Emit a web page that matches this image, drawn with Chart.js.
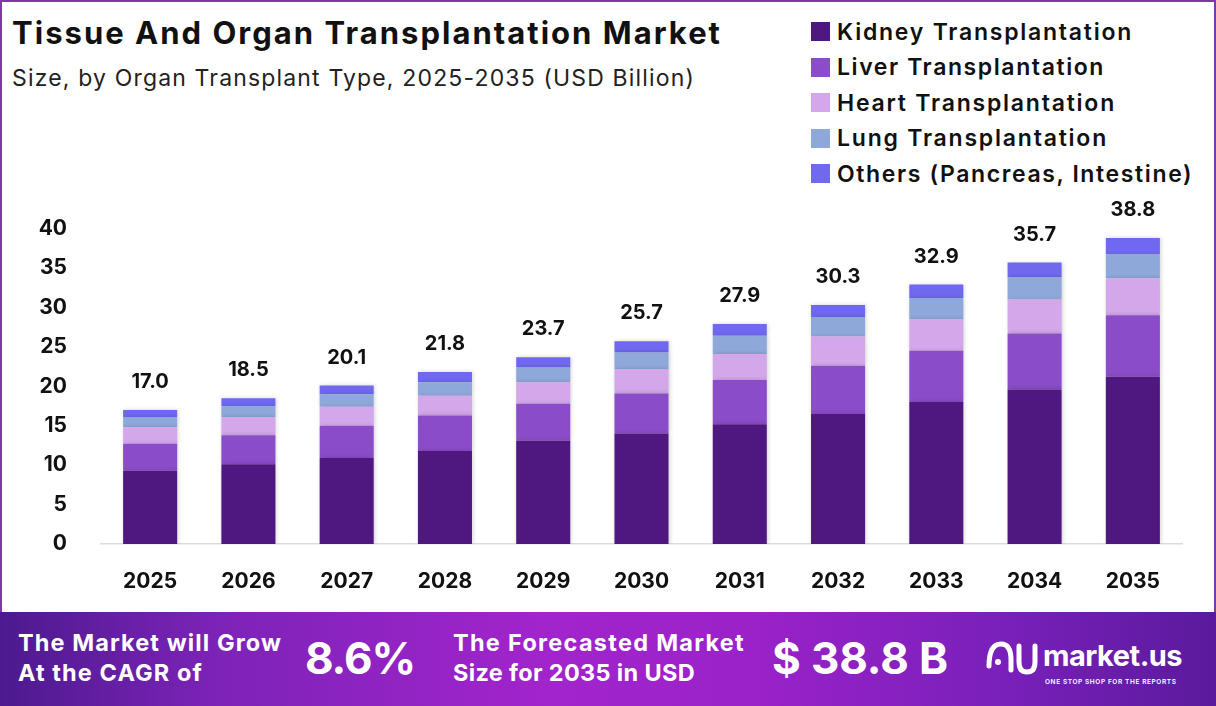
<!DOCTYPE html>
<html>
<head>
<meta charset="utf-8">
<script src="https://cdn.jsdelivr.net/npm/chart.js@4.4.1/dist/chart.umd.min.js"></script>
<style>
  html, body { margin: 0; padding: 0; }
  body { width: 1216px; height: 706px; position: relative; overflow: hidden; background: #fff; font-family: Inter, "Noto Sans", sans-serif; }
  #frame { position: absolute; left: 0; top: 0; width: 1212px; height: 610px; border: 2px solid #7d3aa6; border-bottom: none; }
  .fit { position: absolute; white-space: nowrap; }
  #title { left: 12px; top: 14px; font-size: 31px; font-weight: 700; color: #111; }
  #subtitle { left: 12px; top: 64px; font-size: 23px; font-weight: 400; color: #222; }
  #legend { position: absolute; left: 811px; top: 14px; }
  .lg { position: relative; height: 35.5px; display: flex; align-items: center; font-size: 23px; font-weight: 600; color: #111; white-space: nowrap; }
  .lg span.box { width: 19px; height: 19px; margin-right: 7px; display: inline-block; flex: none; }
  #wrap { position: absolute; left: 0; top: 190px; width: 1216px; height: 420px; }
  #banner { position: absolute; left: 0; top: 612px; width: 1216px; height: 94px;
    background: linear-gradient(90deg, #4c1a8e 0%, #7d23b8 18%, #a224cc 45%, #9a22c8 62%, #7a20bb 82%, #5a1a9c 100%); color: #fff; }
  .bt { font-weight: 700; font-size: 23.5px; }
  .big { font-weight: 700; font-size: 44px; top: 19px; }
  #logo { position: absolute; left: 985px; top: 24px; }
  #logo .name { font-size: 29px; font-weight: 700; position: absolute; left: 58px; top: 2px; letter-spacing: -0.5px; }
  #logo .tag { font-size: 6.5px; font-weight: 600; position: absolute; left: 60px; top: 42px; white-space: nowrap; letter-spacing: 0.6px; }
</style>
</head>
<body>
<div id="frame"></div>
<div id="title" class="fit" data-w="710">Tissue And Organ Transplantation Market</div>
<div id="subtitle" class="fit" data-w="683">Size, by Organ Transplant Type, 2025-2035 (USD Billion)</div>
<div id="legend"></div>
<div id="wrap"><canvas id="myChart"></canvas></div>
<div id="banner">
  <div class="fit bt" data-w="264" style="left:18px; top:16px;">The Market will Grow</div>
  <div class="fit bt" data-w="185" style="left:18px; top:46px;">At the CAGR of</div>
  <div class="fit big" data-w="110" style="left:305px;">8.6%</div>
  <div class="fit bt" data-w="292" style="left:453px; top:16px;">The Forecasted Market</div>
  <div class="fit bt" data-w="242" style="left:453px; top:46px;">Size for 2035 in USD</div>
  <div class="fit big" data-w="176" style="left:772px;">$ 38.8 B</div>
  <div id="logo">
    <svg width="56" height="44" viewBox="0 0 56 44">
      <path d="M4 30 Q4 8 16 8 Q26 8 26 24 L26 34" stroke="#fff" stroke-width="5" fill="none" stroke-linecap="round"/>
      <path d="M34 10 L34 26 Q34 36 42 36 Q50 36 50 26 L50 10" stroke="#fff" stroke-width="5" fill="none" stroke-linecap="round"/>
      <circle cx="13" cy="26" r="3" fill="#fff"/>
    </svg>
    <div class="name">market.us</div>
    <div class="tag">ONE STOP SHOP FOR THE REPORTS</div>
  </div>
</div>
<script>
var years = ["2025", "2026", "2027", "2028", "2029", "2030", "2031", "2032", "2033", "2034", "2035"];
var kidney = [9.3, 10.1, 10.9, 11.8, 13.1, 14.0, 15.2, 16.5, 18.0, 19.6, 21.2];
var liver = [3.4, 3.7, 4.1, 4.5, 4.7, 5.1, 5.6, 6.1, 6.5, 7.1, 7.8];
var heart = [2.1, 2.3, 2.4, 2.5, 2.7, 3.1, 3.3, 3.7, 4.0, 4.3, 4.7];
var lung = [1.3, 1.4, 1.6, 1.7, 1.9, 2.1, 2.3, 2.5, 2.7, 2.8, 3.0];
var others = [0.9, 1.0, 1.1, 1.3, 1.3, 1.4, 1.5, 1.5, 1.7, 1.9, 2.1];
var totals = [17.0, 18.5, 20.1, 21.8, 23.7, 25.7, 27.9, 30.3, 32.9, 35.7, 38.8];
var yTicks = [0, 5, 10, 15, 20, 25, 30, 35, 40];

var seriesNames = ["Kidney Transplantation", "Liver Transplantation", "Heart Transplantation", "Lung Transplantation", "Others (Pancreas, Intestine)"];
var seriesData = [kidney, liver, heart, lung, others];
var barColors = ["#4f1780", "#8a4cc8", "#d3a7ea", "#8fa8da", "#7069f0"];
var legendWidths = [296, 268, 279, 271, 356];

var legendEl = document.getElementById("legend");
seriesNames.forEach(function (n, i) {
  var row = document.createElement("div");
  row.className = "lg";
  row.innerHTML = '<span class="box" style="background:' + barColors[i] + '"></span><span class="fit2" data-w="' + legendWidths[i] + '">' + n + '</span>';
  legendEl.appendChild(row);
});

// stretch text to the reference width with letter spacing
function fitText(el) {
  var target = +el.getAttribute("data-w");
  el.style.display = "inline-block";
  var w = el.getBoundingClientRect().width;
  var n = el.textContent.length;
  el.style.letterSpacing = ((target - w) / n) + "px";
}
document.querySelectorAll(".fit, .fit2").forEach(fitText);

var tickFont = { family: "Inter, 'Liberation Sans', sans-serif", size: 21, weight: "bold" };

var totalLabels = {
  id: "totalLabels",
  afterDatasetsDraw: function (chart) {
    var ctx = chart.ctx;
    var xs = chart.scales.x, ys = chart.scales.y;
    ctx.save();
    ctx.font = "bold 20px Inter, 'Liberation Sans', sans-serif";
    ctx.fillStyle = "#111";
    ctx.textAlign = "center";
    ctx.textBaseline = "middle";
    totals.forEach(function (t, i) {
      ctx.fillText(t.toFixed(1), xs.getPixelForValue(i), ys.getPixelForValue(t) - 28);
    });
    ctx.restore();
  }
};

var barShadow = {
  id: "barShadow",
  beforeDatasetsDraw: function (chart) {
    chart.ctx.save();
    chart.ctx.shadowColor = "rgba(0,0,0,0.18)";
    chart.ctx.shadowBlur = 4;
    chart.ctx.shadowOffsetX = 1;
  },
  afterDatasetsDraw: function (chart) {
    chart.ctx.restore();
  }
};

new Chart("myChart", {
  type: "bar",
  data: {
    labels: years,
    datasets: seriesData.map(function (d, i) {
      return {
        label: seriesNames[i],
        data: d,
        backgroundColor: barColors[i],
        barPercentage: 0.55,
        categoryPercentage: 1.0
      };
    })
  },
  options: {
    responsive: true,
    maintainAspectRatio: false,
    animation: false,
    layout: { padding: { top: 38, right: 34, left: 0, bottom: 0 } },
    plugins: { legend: { display: false }, tooltip: { enabled: false } },
    scales: {
      x: {
        stacked: true,
        grid: { display: false },
        border: { display: true, color: "#dcdcdc", width: 1.5 },
        ticks: { color: "#111", padding: 17, font: tickFont },
        afterFit: function (s) { s.height = 66; }
      },
      y: {
        stacked: true,
        min: 0,
        max: 40,
        afterBuildTicks: function (s) { s.ticks = yTicks.map(function (v) { return { value: v }; }); },
        grid: { display: false },
        border: { display: false },
        ticks: { color: "#111", padding: 26, font: tickFont },
        afterFit: function (s) { s.width = 101; }
      }
    }
  },
  plugins: [barShadow, totalLabels]
});
</script>
</body>
</html>
